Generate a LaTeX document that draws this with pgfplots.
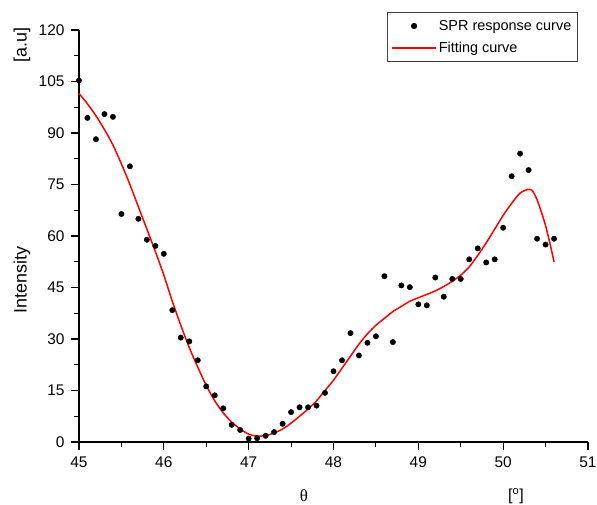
\documentclass[border=0pt]{standalone}
\usepackage{fontspec}
\setmainfont{Liberation Sans}
\newfontfamily\seriffont{Liberation Serif}
\usepackage{pgfplots}
\pgfplotsset{compat=1.18}
\pgfplotsset{
  legdot/.style={legend image code/.code={\draw[mark repeat=2,mark phase=2,##1] plot coordinates {(0bp,0bp) (22bp,0bp) (44bp,0bp)};}},
  legline/.style={legend image code/.code={\draw[##1] (0bp,0bp) -- (44bp,0bp);}},
}
\begin{document}
\begin{tikzpicture}
\useasboundingbox (0,0) rectangle (597bp,505bp);
\begin{axis}[
  at={(79bp,63bp)}, anchor=south west,
  width=509bp, height=412bp, scale only axis,
  xmin=45, xmax=51, ymin=0, ymax=120,
  axis x line=bottom, axis y line=left,
  axis line style={-, line width=1.1bp},
  xtick={45,46,...,51}, ytick={0,15,...,120},
  minor x tick num=1, minor y tick num=1,
  tick align=outside,
  major tick length=8bp, minor tick length=5bp,
  every tick/.style={black, line width=1.1bp},
  tick label style={font=\fontsize{15.5}{18}\selectfont},
  yticklabel style={xshift=-3bp},
  xticklabel style={yshift=-3bp},
  /pgf/number format/assume math mode=true,
  legend style={at={(rel axis cs:0.605,1.044)}, anchor=north west,
    draw=black!75, line width=0.8bp,
    font=\fontsize{14.5}{16}\selectfont,
    inner xsep=4bp, inner ysep=6bp, row sep=6bp},
  legend cell align=left,
  clip=false,
]
\addplot[only marks, mark=*, mark size=2.7bp, black, legdot]
coordinates {
(45.0,105.3)(45.1,94.4)(45.2,88.2)(45.3,95.5)(45.4,94.7)(45.5,66.4)(45.6,80.3)(45.7,65.0)(45.8,58.9)(45.9,57.1)
(46.0,54.8)(46.1,38.4)(46.2,30.4)(46.3,29.3)(46.4,23.8)(46.5,16.2)(46.6,13.6)(46.7,9.8)(46.8,5.0)(46.9,3.5)
(47.0,1.0)(47.1,1.1)(47.2,1.8)(47.3,2.9)(47.4,5.3)(47.5,8.7)(47.6,10.1)(47.7,10.1)(47.8,10.6)(47.9,14.3)
(48.0,20.6)(48.1,23.8)(48.2,31.7)(48.3,25.2)(48.4,28.9)(48.5,30.8)(48.6,48.3)(48.7,29.1)(48.8,45.6)(48.9,45.1)
(49.0,40.1)(49.1,39.8)(49.2,47.9)(49.3,42.3)(49.4,47.5)(49.5,47.5)(49.6,53.2)(49.7,56.4)(49.8,52.3)(49.9,53.2)
(50.0,62.4)(50.1,77.4)(50.2,84.0)(50.3,79.2)(50.4,59.2)(50.5,57.5)(50.6,59.2)
};
\addlegendentry{SPR response curve}
\addplot[red, line width=1.5bp, smooth, tension=0.5, legline]
coordinates {
(45.0,101.5)(45.1,98.5)(45.2,95.0)(45.3,91.0)(45.4,86.5)(45.5,81.0)(45.6,75.0)(45.7,68.5)(45.8,62.0)(45.9,55.5)
(46.0,48.6)(46.1,41.0)(46.2,34.0)(46.3,27.5)(46.4,21.8)(46.5,16.5)(46.6,12.0)(46.7,8.5)(46.8,5.8)(46.9,3.8)
(47.0,2.3)(47.1,1.7)(47.2,1.9)(47.3,2.6)(47.4,3.8)(47.5,5.5)(47.6,7.5)(47.7,9.6)(47.8,12.0)(47.9,15.0)
(48.0,18.0)(48.1,21.5)(48.2,25.0)(48.3,28.5)(48.4,31.5)(48.5,34.0)(48.6,36.0)(48.7,38.0)(48.8,39.5)(48.9,41.0)
(49.0,42.0)(49.1,43.0)(49.2,44.0)(49.3,45.3)(49.4,46.8)(49.5,48.6)(49.6,51.0)(49.7,54.3)(49.8,58.0)(49.9,62.0)
(50.0,66.0)(50.1,69.5)(50.2,72.5)(50.3,73.6)(50.35,73.0)(50.4,70.5)(50.45,67.0)(50.5,63.0)(50.55,58.0)(50.6,52.5)
};
\addlegendentry{Fitting curve}
\end{axis}
\node[rotate=90, font=\fontsize{18}{20}\selectfont] at (22bp,225bp) {Intensity};
\node[rotate=90, font=\fontsize{18}{20}\selectfont] at (22bp,460bp) {[a.u]};
\node[font=\fontsize{17}{20}\seriffont] at (304bp,9bp) {θ};
\node[font=\fontsize{16}{20}\selectfont] at (516bp,9bp) {[\textsuperscript{o}]};
\end{tikzpicture}
\end{document}
